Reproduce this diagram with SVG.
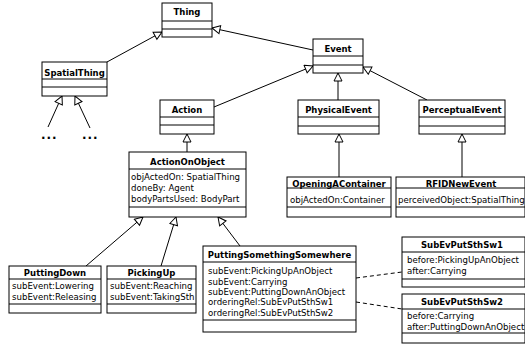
<svg xmlns="http://www.w3.org/2000/svg" width="525" height="345" viewBox="0 0 525 345">
<defs>
<marker id="gen" markerUnits="userSpaceOnUse" markerWidth="12" markerHeight="12" refX="9" refY="5" orient="auto">
<path d="M1,1 L9,5 L1,9 Z" fill="#fff" stroke="#000" stroke-width="1"/>
</marker>
</defs>
<style>
.box{fill:#fff;stroke:#000;stroke-width:1}
.sep{stroke:#000;stroke-width:1}
.t{font-family:"DejaVu Sans",Verdana,sans-serif;font-size:8.5px;font-weight:bold;text-anchor:middle;fill:#000}
.a{font-family:"DejaVu Sans",Verdana,sans-serif;font-size:8.6px;fill:#000}
.dots{font-family:"DejaVu Sans",sans-serif;font-size:12px;font-weight:bold;fill:#000;letter-spacing:1px}
.c{fill:none;stroke:#000;stroke-width:1;marker-end:url(#gen)}
.d{fill:none;stroke:#000;stroke-width:1;stroke-dasharray:4,3}
</style>
<rect width="525" height="345" fill="#fff"/>
<g id="connectors">
<line class="c" x1="107" y1="62" x2="162" y2="32"/>
<line class="c" x1="313" y1="50" x2="212" y2="28"/>
<line class="c" x1="214" y1="107" x2="313" y2="66"/>
<line class="c" x1="338" y1="100" x2="338" y2="73"/>
<line class="c" x1="427" y1="100" x2="363" y2="67"/>
<line class="c" x1="187" y1="152" x2="187" y2="134"/>
<line class="c" x1="339" y1="177" x2="339" y2="134"/>
<line class="c" x1="462" y1="177" x2="462" y2="134"/>
<line class="c" x1="86" y1="266" x2="143" y2="217"/>
<line class="c" x1="161" y1="266" x2="176" y2="217"/>
<line class="c" x1="240" y1="246" x2="218" y2="217"/>
<line class="c" x1="48" y1="127" x2="62" y2="96"/>
<line class="c" x1="90" y1="128" x2="75" y2="96"/>
<line class="d" x1="356" y1="278" x2="402" y2="272"/>
<line class="d" x1="356" y1="302" x2="402" y2="309"/>
</g>
<g id="dots">
<text class="dots" x="41" y="139">...</text>
<text class="dots" x="82" y="139">...</text>
</g>
<g id="Thing">
<rect class="box" x="162" y="3" width="50" height="34"/>
<line class="sep" x1="162" y1="21" x2="212" y2="21"/>
<line class="sep" x1="162" y1="29" x2="212" y2="29"/>
<text class="t" x="187" y="15">Thing</text>
</g>
<g id="SpatialThing">
<rect class="box" x="42" y="62" width="65" height="34"/>
<line class="sep" x1="42" y1="79" x2="107" y2="79"/>
<line class="sep" x1="42" y1="87" x2="107" y2="87"/>
<text class="t" x="74.5" y="76">SpatialThing</text>
</g>
<g id="Event">
<rect class="box" x="313" y="39" width="50" height="34"/>
<line class="sep" x1="313" y1="56" x2="363" y2="56"/>
<line class="sep" x1="313" y1="65" x2="363" y2="65"/>
<text class="t" x="338" y="52">Event</text>
</g>
<g id="Action">
<rect class="box" x="160" y="100" width="54" height="34"/>
<line class="sep" x1="160" y1="117" x2="214" y2="117"/>
<line class="sep" x1="160" y1="125" x2="214" y2="125"/>
<text class="t" x="187" y="113">Action</text>
</g>
<g id="PhysicalEvent">
<rect class="box" x="298" y="100" width="81" height="34"/>
<line class="sep" x1="298" y1="117" x2="379" y2="117"/>
<line class="sep" x1="298" y1="126" x2="379" y2="126"/>
<text class="t" x="338.5" y="113">PhysicalEvent</text>
</g>
<g id="PerceptualEvent">
<rect class="box" x="419" y="100" width="86" height="34"/>
<line class="sep" x1="419" y1="117" x2="505" y2="117"/>
<line class="sep" x1="419" y1="126" x2="505" y2="126"/>
<text class="t" x="462" y="113">PerceptualEvent</text>
</g>
<g id="ActionOnObject">
<rect class="box" x="129" y="152" width="117" height="65"/>
<line class="sep" x1="129" y1="169" x2="246" y2="169"/>
<line class="sep" x1="129" y1="207" x2="246" y2="207"/>
<text class="t" x="187.5" y="165">ActionOnObject</text>
<text class="a" x="131" y="180">objActedOn: SpatialThing</text>
<text class="a" x="131" y="191">doneBy: Agent</text>
<text class="a" x="131" y="202">bodyPartsUsed: BodyPart</text>
</g>
<g id="OpeningAContainer">
<rect class="box" x="287" y="177" width="104" height="40"/>
<line class="sep" x1="287" y1="188" x2="391" y2="188"/>
<line class="sep" x1="287" y1="207" x2="391" y2="207"/>
<text class="t" x="339" y="186.5">OpeningAContainer</text>
<text class="a" x="290" y="203">objActedOn:Container</text>
</g>
<g id="RFIDNewEvent">
<rect class="box" x="396" y="177" width="129" height="40"/>
<line class="sep" x1="396" y1="188" x2="525" y2="188"/>
<line class="sep" x1="396" y1="207" x2="525" y2="207"/>
<text class="t" x="461" y="186.5">RFIDNewEvent</text>
<text class="a" x="398" y="203">perceivedObject:SpatialThing</text>
</g>
<g id="PuttingDown">
<rect class="box" x="9" y="266" width="92" height="47"/>
<line class="sep" x1="9" y1="279" x2="101" y2="279"/>
<line class="sep" x1="9" y1="304" x2="101" y2="304"/>
<text class="t" x="55" y="276">PuttingDown</text>
<text class="a" x="12" y="289">subEvent:Lowering</text>
<text class="a" x="12" y="300">subEvent:Releasing</text>
</g>
<g id="PickingUp">
<rect class="box" x="107" y="266" width="89" height="47"/>
<line class="sep" x1="107" y1="279" x2="196" y2="279"/>
<line class="sep" x1="107" y1="304" x2="196" y2="304"/>
<text class="t" x="151.5" y="276">PickingUp</text>
<text class="a" x="110" y="289">subEvent:Reaching</text>
<text class="a" x="110" y="300">subEvent:TakingSth</text>
</g>
<g id="PuttingSomethingSomewhere">
<rect class="box" x="203" y="246" width="153" height="86"/>
<line class="sep" x1="203" y1="262" x2="356" y2="262"/>
<line class="sep" x1="203" y1="320" x2="356" y2="320"/>
<text class="t" x="279.5" y="258">PuttingSomethingSomewhere</text>
<text class="a" x="208" y="274">subEvent:PickingUpAnObject</text>
<text class="a" x="208" y="284.5">subEvent:Carrying</text>
<text class="a" x="208" y="295">subEvent:PuttingDownAnObject</text>
<text class="a" x="208" y="305">orderingRel:SubEvPutSthSw1</text>
<text class="a" x="208" y="315.5">orderingRel:SubEvPutSthSw2</text>
</g>
<g id="SubEvPutSthSw1">
<rect class="box" x="402" y="237" width="123" height="50"/>
<line class="sep" x1="402" y1="252" x2="525" y2="252"/>
<line class="sep" x1="402" y1="279" x2="525" y2="279"/>
<text class="t" x="462" y="248">SubEvPutSthSw1</text>
<text class="a" x="407" y="263">before:PickingUpAnObject</text>
<text class="a" x="407" y="274">after:Carrying</text>
</g>
<g id="SubEvPutSthSw2">
<rect class="box" x="402" y="294" width="123" height="49"/>
<line class="sep" x1="402" y1="309" x2="525" y2="309"/>
<line class="sep" x1="402" y1="333" x2="525" y2="333"/>
<text class="t" x="462" y="305">SubEvPutSthSw2</text>
<text class="a" x="407" y="319">before:Carrying</text>
<text class="a" x="407" y="330">after:PuttingDownAnObject</text>
</g>
</svg>
